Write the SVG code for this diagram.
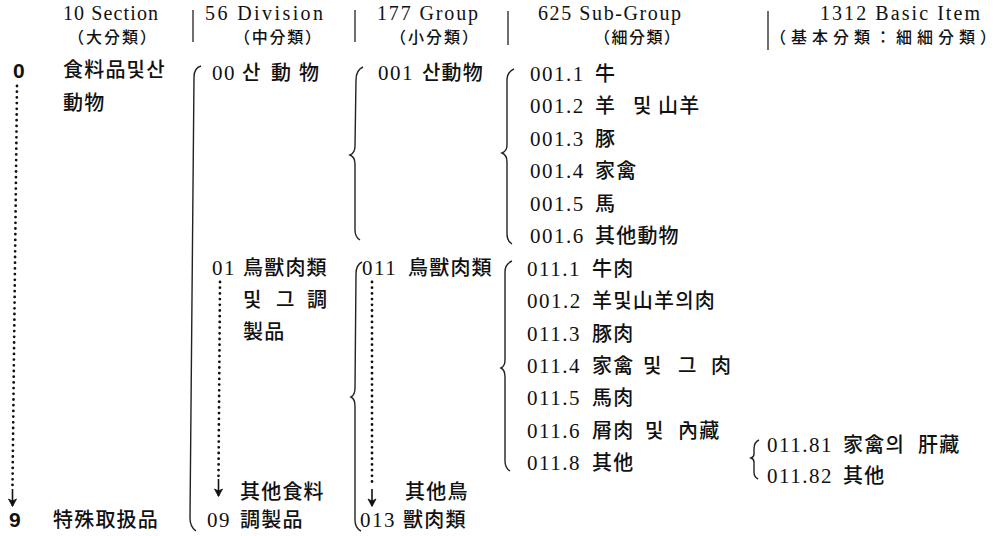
<svg xmlns="http://www.w3.org/2000/svg" width="998" height="536" viewBox="0 0 998 536">
<defs>
<style>
text{fill:#111;font-family:"Liberation Serif","Noto Sans CJK KR","Noto Sans CJK JP",serif;font-size:20px}
.h{font-size:20px;letter-spacing:2px}
.hc{font-family:"Noto Sans CJK KR","Noto Sans CJK JP",sans-serif;font-size:16px;font-weight:500}
.c{font-size:21px;letter-spacing:1.5px}
.k{font-family:"Noto Sans CJK KR","Noto Sans CJK JP",sans-serif;font-size:20px;letter-spacing:1.2px;font-weight:500}
.s{font-family:"Liberation Sans","Noto Sans",sans-serif;font-size:21px;font-weight:bold}
.br{fill:none;stroke:#222;stroke-width:1.4}
.sep{fill:none;stroke:#222;stroke-width:1.3}
.dot{fill:none;stroke:#111;stroke-width:2.8;stroke-linecap:round;stroke-dasharray:0 5.7}
.ar{fill:none;stroke:#111;stroke-width:1.6;marker-end:url(#ah)}
</style>
<marker id="ah" markerUnits="userSpaceOnUse" markerWidth="10" markerHeight="10" refX="8" refY="5" orient="auto" viewBox="0 0 10 10">
<path d="M1,1 L8.5,5 L1,9 L3,5 Z" fill="#111" stroke="#111" stroke-width="0.8" stroke-linejoin="round"/>
</marker>
</defs>
<rect width="998" height="536" fill="#fff"/>

<g id="header">
<text class="h" x="63" y="20" textLength="97">10 Section</text>
<text class="hc" x="68" y="43" textLength="88">（大分類）</text>
<text class="h" x="205" y="20" textLength="120">56 Division</text>
<text class="hc" x="234" y="43" textLength="87">（中分類）</text>
<text class="h" x="377" y="20" textLength="103">177 Group</text>
<text class="hc" x="390" y="43" textLength="88">（小分類）</text>
<text class="h" x="538" y="20" textLength="145">625 Sub-Group</text>
<text class="hc" x="594" y="43" textLength="86">（細分類）</text>
<text class="h" x="820" y="20" textLength="162">1312 Basic Item</text>
<text class="hc" x="770" y="43" textLength="226">（基本分類：細細分類）</text>
<path class="sep" d="M193 10 V42 M355 10 V42 M508 11 V45 M768 11 V50"/>
</g>

<g id="connectors">
<path class="dot" d="M17 86 L12.5 486"/>
<path class="ar" d="M12.5 489 V506"/>
<path class="dot" d="M220 282 L218.5 476"/>
<path class="ar" d="M218.5 479 V496"/>
<path class="dot" d="M372 282 L372 486"/>
<path class="ar" d="M372 489 V506"/>
<path class="br" d="M201 66 Q194 68 194 77 L190 518 Q190 527 196 531"/>
<path class="br" d="M363 67 Q356 70 356 80 L355 146 Q355 153 350 155 Q355 157 355 164 L355 230 Q355 237 360 240"/>
<path class="br" d="M362 262 Q356 265 356 274 L355 388 Q355 395 351 397 Q355 399 355 406 L355 520 Q355 528 361 531"/>
<path class="br" d="M514 69 Q507 72 507 80 L507 145 Q507 151 502 153 Q507 155 507 162 L507 234 Q507 241 512 244"/>
<path class="br" d="M512 261 Q505 264 505 272 L505 360 Q505 366 501 368 Q505 370 505 377 L505 461 Q505 468 510 471"/>
<path class="br" d="M759 440 Q754 442 754 449 L754 454 Q754 457 751 458 Q754 459 754 462 L754 472 Q754 477 758 479"/>
</g>

<g id="section-0">
<text class="s" x="13" y="78">0</text>
<text class="k" x="63" y="77">食料品및산</text>
<text class="k" x="63" y="110">動物</text>
</g>
<g id="section-9">
<text class="s" x="9" y="527">9</text>
<text class="k" x="53" y="527">特殊取扱品</text>
</g>

<g id="division-00">
<text class="c" x="212" y="80">00</text>
<text class="k" x="242" y="80">산</text>
<text class="k" x="271" y="80">動</text>
<text class="k" x="299" y="80">物</text>
</g>
<g id="division-01">
<text class="c" x="212" y="275">01</text>
<text class="k" x="243" y="275">鳥獸肉類</text>
<text class="k" x="243" y="307">및</text>
<text class="k" x="276" y="307">그</text>
<text class="k" x="307" y="307">調</text>
<text class="k" x="243" y="339">製品</text>
</g>
<g id="division-09">
<text class="k" x="240" y="499">其他食料</text>
<text class="c" x="207" y="527">09</text>
<text class="k" x="240" y="527">調製品</text>
</g>

<g id="group-001">
<text class="c" x="378" y="80">001</text>
<text class="k" x="422" y="80">산動物</text>
</g>
<g id="group-011">
<text class="c" x="362" y="275">011</text>
<text class="k" x="408" y="275">鳥獸肉類</text>
</g>
<g id="group-013">
<text class="k" x="405" y="499">其他鳥</text>
<text class="c" x="360" y="527">013</text>
<text class="k" x="403" y="527">獸肉類</text>
</g>

<g id="sub-001-1"><text class="c" x="530" y="81">001.1</text><text class="k" x="595" y="81">牛</text></g>
<g id="sub-001-2"><text class="c" x="530" y="113">001.2</text><text class="k" x="595" y="113">羊</text><text class="k" x="633" y="113">및</text><text class="k" x="658" y="113">山羊</text></g>
<g id="sub-001-3"><text class="c" x="530" y="146">001.3</text><text class="k" x="595" y="146">豚</text></g>
<g id="sub-001-4"><text class="c" x="530" y="178">001.4</text><text class="k" x="595" y="178">家禽</text></g>
<g id="sub-001-5"><text class="c" x="530" y="211">001.5</text><text class="k" x="595" y="211">馬</text></g>
<g id="sub-001-6"><text class="c" x="530" y="243">001.6</text><text class="k" x="595" y="243">其他動物</text></g>
<g id="sub-011-1"><text class="c" x="527" y="276">011.1</text><text class="k" x="592" y="276">牛肉</text></g>
<g id="sub-011-2"><text class="c" x="527" y="308">001.2</text><text class="k" x="592" y="308">羊및山羊의肉</text></g>
<g id="sub-011-3"><text class="c" x="527" y="341">011.3</text><text class="k" x="592" y="341">豚肉</text></g>
<g id="sub-011-4"><text class="c" x="527" y="373">011.4</text><text class="k" x="592" y="373">家禽</text><text class="k" x="643" y="373">및</text><text class="k" x="678" y="373">그</text><text class="k" x="711" y="373">肉</text></g>
<g id="sub-011-5"><text class="c" x="527" y="405">011.5</text><text class="k" x="592" y="405">馬肉</text></g>
<g id="sub-011-6"><text class="c" x="527" y="438">011.6</text><text class="k" x="592" y="438">屑肉</text><text class="k" x="645" y="438">및</text><text class="k" x="678" y="438">內藏</text></g>
<g id="sub-011-8"><text class="c" x="527" y="470">011.8</text><text class="k" x="592" y="470">其他</text></g>

<g id="basic-011-81"><text class="c" x="767" y="452">011.81</text><text class="k" x="843" y="452">家禽의</text><text class="k" x="918" y="452">肝藏</text></g>
<g id="basic-011-82"><text class="c" x="767" y="483">011.82</text><text class="k" x="843" y="483">其他</text></g>
</svg>
